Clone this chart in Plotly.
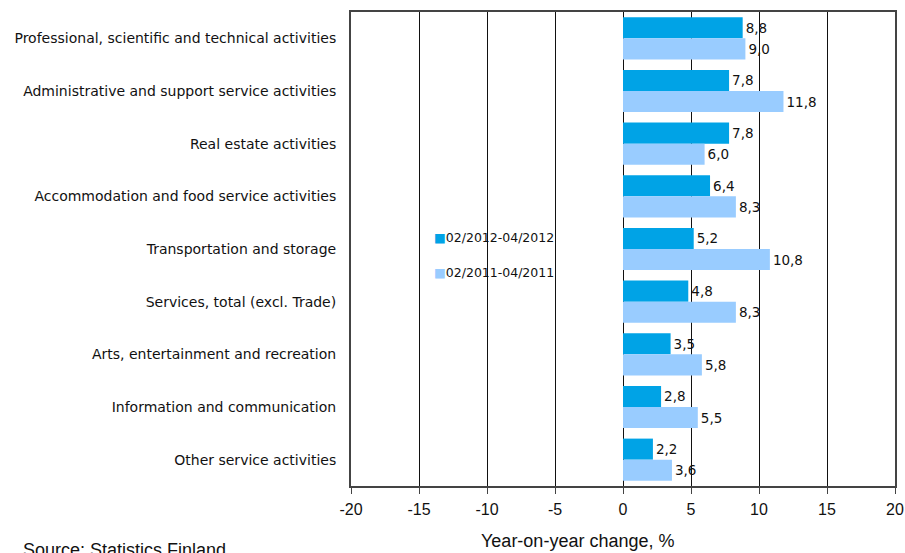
import plotly.graph_objects as go

categories = [
    "Professional, scientific and technical activities",
    "Administrative and support service activities",
    "Real estate activities",
    "Accommodation and food service activities",
    "Transportation and storage",
    "Services, total (excl. Trade)",
    "Arts, entertainment and recreation",
    "Information and communication",
    "Other service activities",
]
series_2012 = [8.8, 7.8, 7.8, 6.4, 5.2, 4.8, 3.5, 2.8, 2.2]
series_2011 = [9.0, 11.8, 6.0, 8.3, 10.8, 8.3, 5.8, 5.5, 3.6]
name_2012 = "02/2012-04/2012"
name_2011 = "02/2011-04/2011"
x_ticks = [-20, -15, -10, -5, 0, 5, 10, 15, 20]

COL_2012 = "#00a3e6"
COL_2011 = "#99ccff"
FONT = "Liberation Sans, Arial, sans-serif"
DV_FONT = "DejaVu Sans, Verdana, sans-serif"

W, H = 905, 553
ML, MR, MT, MB = 351, 10, 12, 67
PW, PH = W - ML - MR, H - MT - MB

def px_x(x):
    return (x - ML) / PW

def px_y(y):
    return 1 - (y - MT) / PH

def fmt(v):
    return f"{v:.1f}".replace(".", ",")

fig = go.Figure()
fig.add_trace(go.Bar(
    y=categories, x=series_2012, orientation="h", name=name_2012,
    marker=dict(color=COL_2012, line=dict(width=0)),
    text=[fmt(v) for v in series_2012], textposition="outside",
    textfont=dict(family=DV_FONT, size=13.5, color="#111"), cliponaxis=False,
))
fig.add_trace(go.Bar(
    y=categories, x=series_2011, orientation="h", name=name_2011,
    marker=dict(color=COL_2011, line=dict(width=0)),
    text=[fmt(v) for v in series_2011], textposition="outside",
    textfont=dict(family=DV_FONT, size=13.5, color="#111"), cliponaxis=False,
))

legend_annots = [
    dict(text=f"<span style='color:{COL_2012}'>■</span>{name_2012}",
         xref="paper", yref="paper", x=px_x(432), y=px_y(237),
         xanchor="left", yanchor="middle", showarrow=False,
         font=dict(family=DV_FONT, size=12.5, color="#111")),
    dict(text=f"<span style='color:{COL_2011}'>■</span>{name_2011}",
         xref="paper", yref="paper", x=px_x(432), y=px_y(272),
         xanchor="left", yanchor="middle", showarrow=False,
         font=dict(family=DV_FONT, size=12.5, color="#111")),
]

fig.update_layout(
    width=W, height=H, autosize=False,
    margin=dict(l=ML, r=MR, t=MT, b=MB, autoexpand=False),
    paper_bgcolor="white", plot_bgcolor="white",
    barmode="group", bargap=0.2, bargroupgap=0,
    font=dict(family=FONT, size=13, color="#111"),
    showlegend=False,
    xaxis=dict(range=[-20, 20], tickvals=x_ticks,
               ticktext=[str(t) for t in x_ticks], automargin=False,
               showgrid=True, gridcolor="#111", gridwidth=1,
               zeroline=True, zerolinecolor="#111", zerolinewidth=1,
               showline=True, linecolor="#444", linewidth=2, mirror=True,
               ticks="outside", ticklen=6, tickcolor="#444",
               ticklabeloverflow="allow", ticklabelstandoff=2,
               tickfont=dict(family=FONT, size=16, color="#111")),
    yaxis=dict(autorange="reversed", showgrid=False, automargin=False,
               showline=True, linecolor="#444", linewidth=2, mirror=True,
               ticks="", ticklabelstandoff=10,
               tickfont=dict(family=DV_FONT, size=14, color="#111")),
    annotations=legend_annots + [
        dict(text="Year-on-year change, %", xref="paper", yref="paper",
             x=px_x(577), y=px_y(541), xanchor="center", yanchor="middle",
             showarrow=False, font=dict(family=FONT, size=18, color="#111")),
        dict(text="Source: Statistics Finland", xref="paper", yref="paper",
             x=px_x(21), y=px_y(538), xanchor="left", yanchor="top",
             showarrow=False, font=dict(family=FONT, size=18, color="#111")),
    ],
)

fig.write_html(
    "out.html",
    config={"displayModeBar": False},
    post_script=("document.body.style.margin='0';"
                 "document.body.style.overflow='hidden';"),
)
